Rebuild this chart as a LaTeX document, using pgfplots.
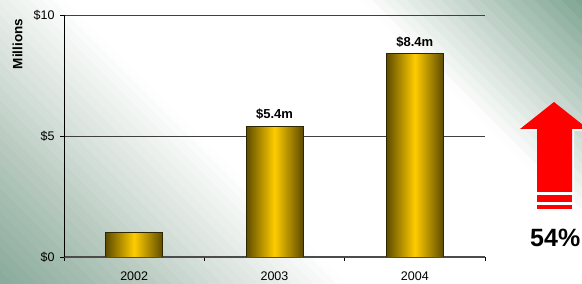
\documentclass[border=0pt]{standalone}
\usepackage{pgfplots}
\pgfplotsset{compat=1.18}
\usepackage{fontspec}
\setmainfont{Liberation Sans}
\definecolor{bgdarkA}{HTML}{7DA393}
\definecolor{bgmedA}{HTML}{ABC1B5}
\definecolor{bglightA}{HTML}{DAE3DE}
\definecolor{bglightB}{HTML}{CCDAD2}
\definecolor{bgdarkB}{HTML}{6A9882}
\definecolor{bardark}{HTML}{5E4C00}
\definecolor{gold}{HTML}{FFCC00}
\definecolor{barline}{HTML}{2E2600}
% one band of the background: s runs from the lower left corner (negative) to the upper right corner (positive)
\newcommand\bgseg[5]{%
  \foreach \k in {1,...,#5}{%
    \pgfmathsetmacro\sA{(#1)+(\k-1)*((#2)-(#1))/#5}%
    \pgfmathsetmacro\sB{(#1)+\k*((#2)-(#1))/#5+0.8}%
    \pgfmathsetmacro\pc{100*(\k-0.5)/#5}%
    \pgfmathsetmacro\ax{291+0.7071*\sA}%
    \pgfmathsetmacro\ay{142+0.7071*\sA}%
    \pgfmathsetmacro\bx{291+0.7071*\sB}%
    \pgfmathsetmacro\by{142+0.7071*\sB}%
    \fill[#4!\pc!#3] (\ax-320,\ay+320) -- (\ax+320,\ay-320) -- (\bx+320,\by-320) -- (\bx-320,\by+320) -- cycle;
  }}
\begin{document}
\begin{tikzpicture}[x=1pt,y=1pt]
\useasboundingbox (0,0) rectangle (582,284);
\clip (0,0) rectangle (582,284);
\bgseg{-330}{-230}{bgdarkA}{bgmedA}{12}
\bgseg{-230}{-140}{bgmedA}{bglightA}{10}
\bgseg{-140}{-60}{bglightA}{white}{10}
\bgseg{-60}{150}{white}{white}{2}
\bgseg{150}{215}{white}{bglightB}{8}
\bgseg{215}{330}{bglightB}{bgdarkB}{12}
\begin{axis}[
  at={(64pt,27pt)}, anchor=south west,
  scale only axis, width=421pt, height=242pt,
  xmin=-0.5, xmax=2.5, ymin=0, ymax=10,
  ybar, bar width=0.406, bar shift=0pt,
  axis x line*=bottom, axis y line*=left,
  x axis line style={draw=black!70, line width=1.2pt},
  y axis line style={draw=black, line width=0.8pt},
  xtick={-0.5,0.5,1.5,2.5}, x tick label as interval,
  xticklabels={2002,2003,2004},
  ytick={0,5,10}, yticklabels={\$0,\$5,\$10},
  tick align=outside, major tick length=4pt,
  tick style={black, line width=0.8pt},
  ymajorgrids, grid style={black!75, line width=0.8pt},
  ticklabel style={font=\fontsize{12.5}{14}\selectfont},
  xticklabel style={yshift=-7pt},
  yticklabel style={xshift=-2pt},
  nodes near coords, point meta=explicit symbolic,
  nodes near coords style={font=\bfseries\fontsize{13}{15}\selectfont, yshift=3pt},
  barstyle/.style={draw=barline, line width=0.8pt, left color=bardark, right color=bardark, middle color=gold},
]
\addplot[barstyle] coordinates {(0,1.0) []};
\addplot[barstyle] coordinates {(1,5.4) [\$5.4m]};
\addplot[barstyle] coordinates {(2,8.4) [\$8.4m]};
\draw[black!50, line width=0.8pt] (rel axis cs:1,0) -- (rel axis cs:1,1);
\end{axis}
\node[rotate=90, font=\bfseries\fontsize{13.5}{15}\selectfont] at (17.5,240) {Millions};
% arrow shadow
\begin{scope}[shift={(2,-2)}]
\fill[white] (554,182) -- (588,155) -- (572,155) -- (572,92) -- (537,92) -- (537,155) -- (520,155) -- cycle;
\fill[white] (537,89) rectangle (572,82);
\fill[white] (537,79) rectangle (572,75);
\end{scope}
\fill[red] (554,182) -- (588,155) -- (572,155) -- (572,92) -- (537,92) -- (537,155) -- (520,155) -- cycle;
\fill[red] (537,89) rectangle (572,82);
\fill[red] (537,79) rectangle (572,75);
\node[anchor=base west, inner sep=0pt, font=\bfseries\fontsize{25}{28}\selectfont] at (530,37) {54\%};
\end{tikzpicture}
\end{document}
